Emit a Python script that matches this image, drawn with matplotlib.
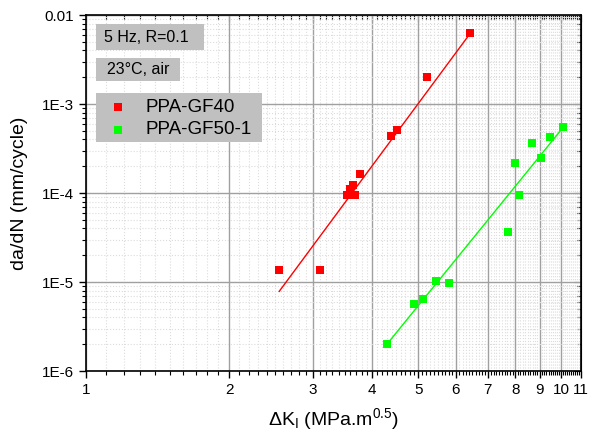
import numpy as np
import matplotlib
matplotlib.use('Agg')
import matplotlib.pyplot as plt
from matplotlib.patches import Rectangle
from matplotlib.lines import Line2D
from matplotlib.ticker import FixedLocator, NullFormatter, LogLocator

plt.rcParams['font.family'] = ['Liberation Sans', 'DejaVu Sans']
plt.rcParams['mathtext.fontset'] = 'custom'
plt.rcParams['mathtext.rm'] = 'Liberation Sans'
plt.rcParams['mathtext.it'] = 'Liberation Sans'

# data
gf40_dk = [2.55, 3.11, 3.54, 3.68, 3.60, 3.65, 3.77, 4.38, 4.51, 5.22, 6.43]
gf40_dadn = [1.36e-5, 1.36e-5, 9.5e-5, 9.5e-5, 1.10e-4, 1.22e-4, 1.62e-4,
             4.4e-4, 5.1e-4, 2.03e-3, 6.2e-3]
gf50_dk = [4.30, 4.91, 5.11, 5.45, 5.80, 7.71, 8.16, 8.00, 8.69, 9.08, 9.48, 10.1]
gf50_dadn = [2.03e-6, 5.66e-6, 6.5e-6, 1.03e-5, 9.75e-6, 3.67e-5, 9.57e-5,
             2.17e-4, 3.65e-4, 2.47e-4, 4.26e-4, 5.52e-4]

# fitted lines (end points)
gf40_fit_dk = [2.55, 6.43]
gf40_fit_dadn = [7.85e-6, 6.2e-3]
gf50_fit_dk = [4.30, 10.1]
gf50_fit_dadn = [2.01e-6, 5.5e-4]

xticks = [1, 2, 3, 4, 5, 6, 7, 8, 9, 10, 11]
yticks = [1e-6, 1e-5, 1e-4, 1e-3, 1e-2]
ylabels = ['1E-6', '1E-5', '1E-4', '1E-3', '0.01']

red = '#ff0000'
green = '#00ff00'

W, H = 589, 436
fig = plt.figure(figsize=(W / 100, H / 100), dpi=100)
ax = fig.add_axes([86 / W, 1 - 371 / H, 495 / W, 356 / H])
ax.set_xscale('log')
ax.set_yscale('log')
ax.set_xlim(1, 11)
ax.set_ylim(1e-6, 1e-2)

minor_x = [v for v in np.arange(1.1, 11.0, 0.1) if abs(v - round(v)) > 1e-6]
ax.xaxis.set_major_locator(FixedLocator(xticks))
ax.xaxis.set_minor_locator(FixedLocator(minor_x))
ax.xaxis.set_minor_formatter(NullFormatter())
ax.set_xticklabels([str(v) for v in xticks])
ax.yaxis.set_major_locator(FixedLocator(yticks))
ax.yaxis.set_minor_locator(LogLocator(base=10, subs=np.arange(2, 10)))
ax.yaxis.set_minor_formatter(NullFormatter())
ax.set_yticklabels(ylabels)

ax.grid(True, which='major', color='#a0a0a0', lw=1.0, ls='-')
ax.grid(True, which='minor', color='#dcdcdc', lw=0.8, ls=':')
ax.set_axisbelow(True)

ax.tick_params(which='major', direction='out', length=5, width=1, labelsize=11, colors='black')
ax.tick_params(which='minor', direction='out', length=3, width=0.8)
for s in ax.spines.values():
    s.set_linewidth(1.2)

# inward ticks on top and right
top = ax.secondary_xaxis('top')
top.xaxis.set_major_locator(FixedLocator(xticks))
top.xaxis.set_minor_locator(FixedLocator(minor_x))
top.tick_params(which='both', direction='in', labeltop=False)
top.tick_params(which='major', length=5)
top.tick_params(which='minor', length=3, width=0.8)
right = ax.secondary_yaxis('right')
right.yaxis.set_major_locator(FixedLocator(yticks))
right.yaxis.set_minor_locator(LogLocator(base=10, subs=np.arange(2, 10)))
right.tick_params(which='both', direction='in', labelright=False)
right.tick_params(which='major', length=5)
right.tick_params(which='minor', length=3, width=0.8)

ax.plot(gf40_fit_dk, gf40_fit_dadn, color=red, lw=1)
ax.plot(gf50_fit_dk, gf50_fit_dadn, color=green, lw=1)
ax.plot(gf40_dk, gf40_dadn, 's', color=red, ms=6, mew=0)
ax.plot(gf50_dk, gf50_dadn, 's', color=green, ms=6, mew=0)

ax.set_xlabel(r'$\Delta$K$_\mathregular{I}$ (MPa.m$^\mathregular{0.5}$)', fontsize=14, labelpad=7)
ax.set_ylabel('da/dN (mm/cycle)', fontsize=14, labelpad=10)

# annotation boxes (pixel positions)
def fbox(x0, y0, x1, y1):
    fig.add_artist(Rectangle((x0 / W, 1 - y1 / H), (x1 - x0) / W, (y1 - y0) / H,
                             transform=fig.transFigure, fc='#c0c0c0', ec='none'))

fbox(96, 24, 204, 50)
fig.text(146.5 / W, 1 - 37 / H, '5 Hz, R=0.1', ha='center', va='center', fontsize=11.5)
fbox(96, 58, 180, 81)
fig.text(138 / W, 1 - 70 / H, '23°C, air', ha='center', va='center', fontsize=11.5)
fbox(96, 93, 262, 142)
fig.add_artist(Line2D([117.7 / W], [1 - 107 / H], marker='s', color=red, ms=6, mew=0,
                      transform=fig.transFigure))
fig.add_artist(Line2D([117.7 / W], [1 - 130 / H], marker='s', color=green, ms=6, mew=0,
                      transform=fig.transFigure))
fig.text(145.7 / W, 1 - 107 / H, 'PPA-GF40', ha='left', va='center', fontsize=13.5)
fig.text(145.7 / W, 1 - 130 / H, 'PPA-GF50-1', ha='left', va='center', fontsize=13.5)

fig.savefig('out.png', dpi=100)
